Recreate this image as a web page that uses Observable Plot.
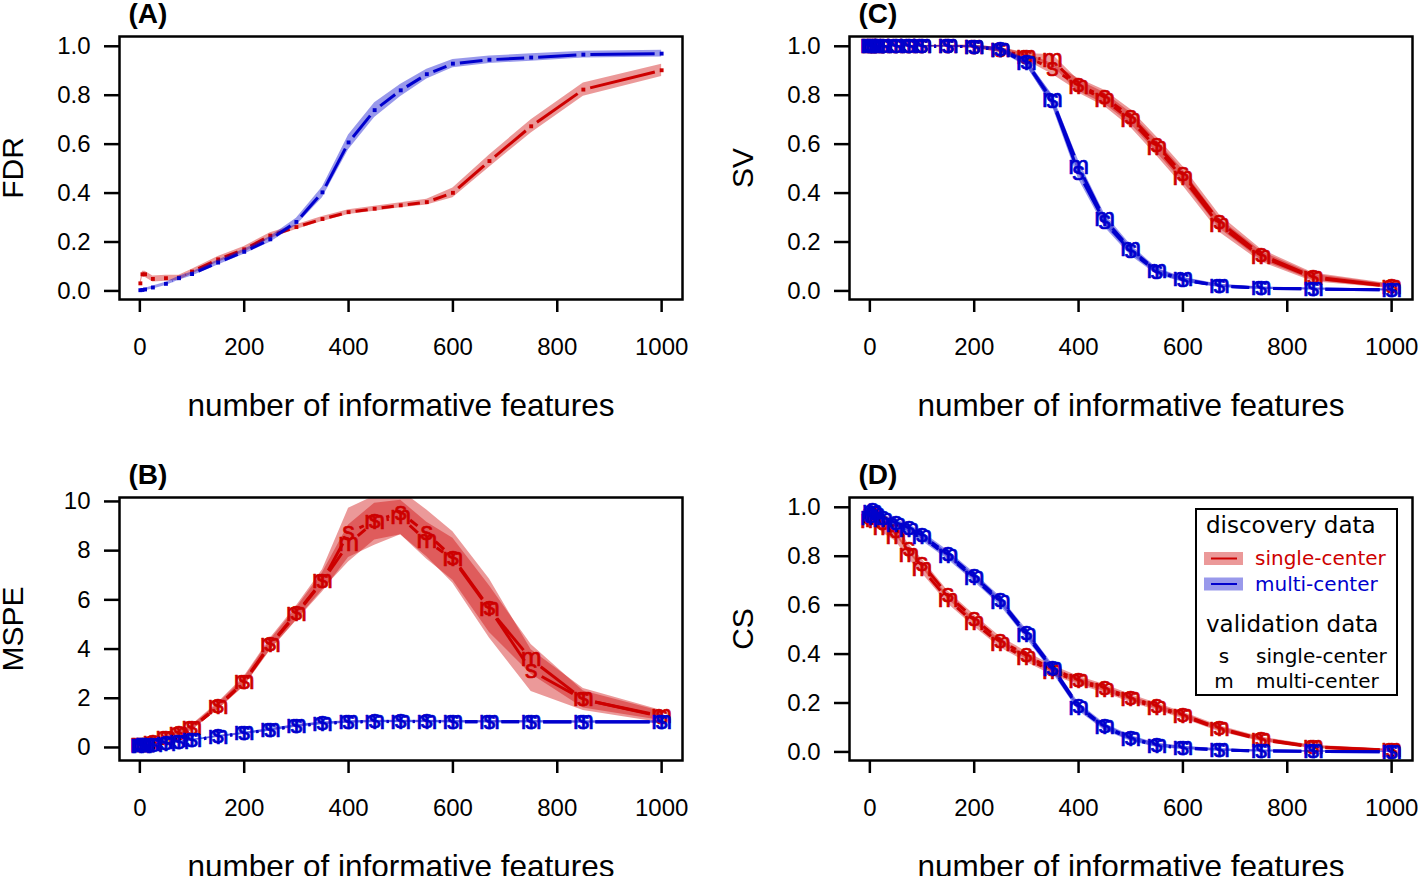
<!DOCTYPE html>
<html><head><meta charset="utf-8">
<script src="https://cdn.jsdelivr.net/npm/d3@7"></script>
<script src="https://cdn.jsdelivr.net/npm/@observablehq/plot@0.6"></script>
<style>
body{margin:0;background:#fff;}
#wrap{position:relative;width:1418px;height:876px;overflow:hidden;background:#fff;}
.panel{position:absolute;}
#legend{position:absolute;left:0;top:0;pointer-events:none;}
</style></head><body><div id="wrap"></div>
<script>
// ---------- data ----------
const xs = [1,5,10,25,50,75,100,150,200,250,300,350,400,450,500,550,600,670,750,850,1000];
const xTicks = [0,200,400,600,800,1000];

// (A) FDR
const fdrSingle   = [0.031,0.068,0.068,0.049,0.052,0.054,0.079,0.129,0.170,0.226,0.261,0.294,0.322,0.336,0.350,0.363,0.401,0.531,0.673,0.823,0.902];
const fdrSingleSd = [0.010,0.012,0.012,0.012,0.012,0.010,0.010,0.012,0.012,0.012,0.010,0.010,0.010,0.010,0.010,0.012,0.020,0.025,0.027,0.027,0.025];
const fdrMulti    = [0.003,0.004,0.006,0.014,0.029,0.052,0.069,0.116,0.160,0.211,0.282,0.403,0.607,0.739,0.820,0.886,0.929,0.945,0.954,0.966,0.970];
const fdrMultiSd  = [0.004,0.004,0.005,0.006,0.007,0.008,0.008,0.010,0.010,0.012,0.015,0.022,0.030,0.030,0.025,0.020,0.017,0.015,0.015,0.014,0.014];

// (B) MSPE
const mspeSingleS   = [0.10,0.10,0.12,0.22,0.40,0.58,0.81,1.68,2.68,4.19,5.45,6.77,8.72,9.22,9.55,8.70,7.72,5.65,3.12,1.95,1.25];
const mspeSingleM   = [0.10,0.10,0.12,0.20,0.38,0.55,0.79,1.66,2.66,4.17,5.42,6.75,8.29,9.18,9.35,8.40,7.65,5.62,3.58,1.95,1.28];
const mspeSingleSSd = [0.03,0.03,0.04,0.05,0.07,0.09,0.11,0.15,0.20,0.25,0.30,0.45,1.00,1.00,0.90,0.95,1.05,1.20,0.85,0.45,0.25];
const mspeSingleMSd = [0.03,0.03,0.04,0.05,0.06,0.08,0.10,0.12,0.16,0.20,0.25,0.35,0.75,0.75,0.70,0.75,0.85,0.95,0.60,0.35,0.18];
const mspeMultiS    = [0.08,0.08,0.09,0.12,0.17,0.22,0.30,0.45,0.58,0.72,0.88,0.98,1.04,1.06,1.06,1.06,1.05,1.05,1.05,1.04,1.04];
const mspeMultiM    = [0.07,0.07,0.08,0.11,0.16,0.21,0.29,0.44,0.57,0.71,0.87,0.97,1.03,1.05,1.05,1.05,1.04,1.04,1.04,1.03,1.03];
const mspeMultiSd   = [0.02,0.02,0.02,0.02,0.03,0.03,0.03,0.04,0.04,0.05,0.05,0.05,0.05,0.05,0.05,0.05,0.05,0.05,0.05,0.05,0.05];

// (C) SV
const svSingleS  = [1,1,1,1,1,1,1,1,0.998,0.985,0.958,0.907,0.842,0.792,0.712,0.597,0.477,0.283,0.148,0.058,0.020];
const svSingleM  = [1,1,1,1,1,1,1,1,0.998,0.985,0.955,0.944,0.835,0.782,0.698,0.584,0.462,0.268,0.140,0.053,0.018];
const svSingleSd = [0.002,0.002,0.002,0.002,0.002,0.002,0.003,0.004,0.006,0.010,0.015,0.022,0.026,0.028,0.030,0.032,0.032,0.028,0.022,0.015,0.008];
const svMultiS   = [1,1,1,1,1,1,1,1,0.998,0.988,0.935,0.775,0.482,0.282,0.162,0.078,0.045,0.020,0.011,0.008,0.004];
const svMultiM   = [1,1,1,1,1,1,1,1,0.998,0.985,0.932,0.780,0.508,0.292,0.170,0.082,0.047,0.021,0.011,0.008,0.004];
const svMultiSd  = [0.002,0.002,0.002,0.002,0.002,0.002,0.002,0.003,0.004,0.008,0.014,0.022,0.025,0.022,0.018,0.012,0.009,0.006,0.005,0.004,0.004];

// (D) CS
const csSingleS  = [0.955,0.975,0.965,0.935,0.905,0.830,0.770,0.640,0.545,0.455,0.395,0.338,0.295,0.262,0.222,0.187,0.152,0.097,0.053,0.021,0.007];
const csSingleM  = [0.945,0.965,0.950,0.915,0.880,0.805,0.748,0.622,0.528,0.442,0.382,0.328,0.288,0.255,0.215,0.181,0.147,0.093,0.050,0.019,0.006];
const csSingleSd = [0.020,0.020,0.020,0.020,0.020,0.018,0.018,0.017,0.016,0.016,0.015,0.015,0.014,0.014,0.013,0.012,0.011,0.010,0.008,0.006,0.004];
const csMultiS   = [0.965,0.990,0.975,0.955,0.935,0.915,0.885,0.808,0.718,0.620,0.487,0.345,0.188,0.104,0.057,0.028,0.017,0.008,0.004,0.002,0.001];
const csMultiM   = [0.955,0.982,0.968,0.948,0.928,0.908,0.877,0.800,0.710,0.612,0.478,0.338,0.180,0.100,0.054,0.026,0.016,0.008,0.004,0.002,0.001];
const csMultiSd  = [0.015,0.015,0.015,0.015,0.015,0.015,0.015,0.014,0.014,0.014,0.014,0.014,0.013,0.012,0.010,0.008,0.006,0.005,0.004,0.003,0.002];

// legend text
const legendDiscoveryTitle = "discovery data";
const legendDiscovery = ["single-center", "multi-center"];
const legendValidationTitle = "validation data";
const legendValidation = [["s", "single-center"], ["m", "multi-center"]];
const xLabel = "number of informative features";

// ---------- styling ----------
const RED = "#CD0000", BLUE = "#0000CD";
const FONT = "'Liberation Sans', Arial, Helvetica, sans-serif";
const LFONT = "'DejaVu Sans', Verdana, sans-serif";
const W = 709, H = 438, FW = 563, FH = 263;
const xDomain = [-39, 1040];

// line segments with gaps around points (R type = "b")
function gappedSegments(x, y, sx, sy, gap) {
  const out = [];
  for (let i = 0; i < x.length - 1; i++) {
    const dxp = sx.apply(x[i+1]) - sx.apply(x[i]);
    const dyp = sy.apply(y[i+1]) - sy.apply(y[i]);
    const L = Math.hypot(dxp, dyp);
    if (L <= 2 * gap) continue;
    const t0 = gap / L, t1 = 1 - gap / L;
    out.push({
      x1: x[i] + (x[i+1]-x[i]) * t0, y1: y[i] + (y[i+1]-y[i]) * t0,
      x2: x[i] + (x[i+1]-x[i]) * t1, y2: y[i] + (y[i+1]-y[i]) * t1
    });
  }
  return out;
}

function panel({tag, ylab, yDomain, yTicks, yFmt, col, row, groups, gap}) {
  const ml = col ? 140 : 119;
  const mt = row ? 59 : 36;
  const mr = W - ml - FW, mb = H - mt - FH;
  const sx = Plot.scale({x: {domain: xDomain, range: [ml, ml + FW]}});
  const sy = Plot.scale({y: {domain: yDomain, range: [mt + FH, mt]}});
  const marks = [];
  for (const g of groups) {
    for (const s of g.series) {
      const rows = xs.map((x, i) => ({x, lo: s.vals[i] - s.sd[i], hi: s.vals[i] + s.sd[i]}));
      marks.push(Plot.areaY(rows, {x: "x", y1: "lo", y2: "hi", fill: g.color, fillOpacity: 0.4, clip: true}));
    }
    for (const s of g.series) {
      marks.push(Plot.link(gappedSegments(xs, s.vals, sx, sy, gap),
        {x1: "x1", y1: "y1", x2: "x2", y2: "y2", stroke: g.color, strokeWidth: 3, clip: true}));
    }
    for (const s of g.series) {
      const rows = xs.map((x, i) => ({x, y: s.vals[i]}));
      if (s.label) marks.push(Plot.text(rows, {x: "x", y: "y", text: () => s.label, fill: g.color, stroke: g.color, strokeWidth: 0.7, fontSize: 25, fontFamily: FONT, lineAnchor: "middle", dy: -1}));
      else marks.push(Plot.dot(rows, {x: "x", y: "y", symbol: "square", r: 2.2, fill: g.color, stroke: null}));
    }
  }
  marks.push(
    Plot.frame({stroke: "black", strokeWidth: 2.5}),
    Plot.axisX({ticks: xTicks, tickFormat: d3.format("d"), tickSize: 13, tickPadding: 25, fontSize: 24, strokeWidth: 2.5, label: null}),
    Plot.axisY({ticks: yTicks, tickFormat: yFmt, tickSize: 15, tickPadding: 14, fontSize: 24, strokeWidth: 2.5, label: null}),
    Plot.text([tag], {text: d => d, frameAnchor: "top-left", dx: 9, dy: -22, textAnchor: "start", lineAnchor: "middle", fontWeight: "bold", fontSize: 28, fontFamily: FONT}),
    Plot.text([xLabel], {text: d => d, frameAnchor: "bottom", dy: 106, textAnchor: "middle", lineAnchor: "middle", fontSize: 31.5, fontFamily: FONT}),
    Plot.text([ylab], {text: d => d, frameAnchor: "left", dx: -106, rotate: -90, textAnchor: "middle", lineAnchor: "middle", fontSize: 30, fontFamily: FONT})
  );
  const p = Plot.plot({
    width: W, height: H, marginLeft: ml, marginRight: mr, marginTop: mt, marginBottom: mb,
    style: {fontFamily: FONT, fontSize: "24px", background: "transparent", overflow: "visible", color: "black"},
    x: {domain: xDomain},
    y: {domain: yDomain},
    marks
  });
  p.classList.add("panel");
  p.style.left = (col ? W : 0) + "px";
  p.style.top = (row ? H : 0) + "px";
  return p;
}

const wrap = document.getElementById("wrap");
const f1 = d3.format(".1f");
const t01 = [0, 0.2, 0.4, 0.6, 0.8, 1.0];

wrap.append(panel({tag: "(A)", ylab: "FDR", yDomain: [-0.035, 1.04], yTicks: t01, yFmt: f1, col: 0, row: 0, gap: 7,
  groups: [
    {color: RED, series: [{vals: fdrSingle, sd: fdrSingleSd}]},
    {color: BLUE, series: [{vals: fdrMulti, sd: fdrMultiSd}]}
  ]}));

wrap.append(panel({tag: "(C)", ylab: "SV", yDomain: [-0.035, 1.04], yTicks: t01, yFmt: f1, col: 1, row: 0, gap: 12,
  groups: [
    {color: RED, series: [{vals: svSingleS, sd: svSingleSd, label: "s"}, {vals: svSingleM, sd: svSingleSd, label: "m"}]},
    {color: BLUE, series: [{vals: svMultiS, sd: svMultiSd, label: "s"}, {vals: svMultiM, sd: svMultiSd, label: "m"}]}
  ]}));

wrap.append(panel({tag: "(B)", ylab: "MSPE", yDomain: [-0.53, 10.16], yTicks: [0,2,4,6,8,10], yFmt: d3.format("d"), col: 0, row: 1, gap: 12,
  groups: [
    {color: RED, series: [{vals: mspeSingleS, sd: mspeSingleSSd, label: "s"}, {vals: mspeSingleM, sd: mspeSingleMSd, label: "m"}]},
    {color: BLUE, series: [{vals: mspeMultiS, sd: mspeMultiSd, label: "s"}, {vals: mspeMultiM, sd: mspeMultiSd, label: "m"}]}
  ]}));

wrap.append(panel({tag: "(D)", ylab: "CS", yDomain: [-0.035, 1.04], yTicks: t01, yFmt: f1, col: 1, row: 1, gap: 12,
  groups: [
    {color: RED, series: [{vals: csSingleS, sd: csSingleSd, label: "s"}, {vals: csSingleM, sd: csSingleSd, label: "m"}]},
    {color: BLUE, series: [{vals: csMultiS, sd: csMultiSd, label: "s"}, {vals: csMultiM, sd: csMultiSd, label: "m"}]}
  ]}));

// ---------- legend (panel D) ----------
const NS = "http://www.w3.org/2000/svg";
const lg = document.createElementNS(NS, "svg");
lg.setAttribute("id", "legend");
lg.setAttribute("width", 1418); lg.setAttribute("height", 876);
function el(name, attrs, text) {
  const e = document.createElementNS(NS, name);
  for (const k in attrs) e.setAttribute(k, attrs[k]);
  if (text != null) e.textContent = text;
  lg.appendChild(e); return e;
}
el("rect", {x: 1196, y: 509, width: 201, height: 186, fill: "white", stroke: "black", "stroke-width": 2});
el("text", {x: 1206, y: 533, "font-family": LFONT, "font-size": 23, fill: "black"}, legendDiscoveryTitle);
const lcol = [RED, BLUE];
legendDiscovery.forEach((t, i) => {
  const yc = 558.5 + i * 25.5;
  el("rect", {x: 1204, y: yc - 6.5, width: 39, height: 13, fill: lcol[i], "fill-opacity": 0.4});
  el("line", {x1: 1211, x2: 1237, y1: yc, y2: yc, stroke: lcol[i], "stroke-width": 2});
  el("text", {x: 1255, y: yc + 6.5, "font-family": LFONT, "font-size": 20, fill: lcol[i]}, t);
});
el("text", {x: 1206, y: 632, "font-family": LFONT, "font-size": 23, fill: "black"}, legendValidationTitle);
legendValidation.forEach(([k, t], i) => {
  const yb = 663 + i * 24.5;
  el("text", {x: 1224, y: yb, "font-family": LFONT, "font-size": 20, "text-anchor": "middle", fill: "black"}, k);
  el("text", {x: 1256, y: yb, "font-family": LFONT, "font-size": 20, fill: "black"}, t);
});
wrap.append(lg);
</script></body></html>
